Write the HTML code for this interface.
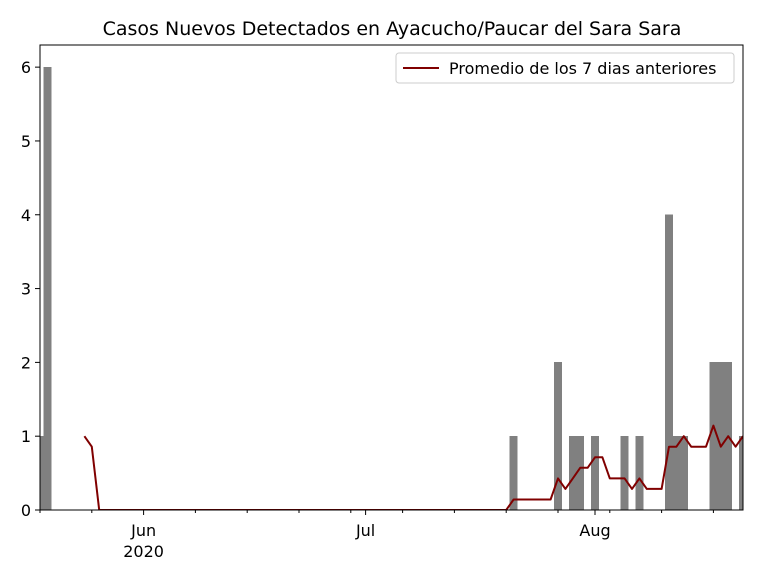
<!DOCTYPE html>
<html><head><meta charset="utf-8"><style>
body{margin:0;background:#fff;}
svg{display:block;font-family:"DejaVu Sans","Liberation Sans",sans-serif;}
</style></head><body>
<svg id="chart" width="768" height="576" viewBox="0 0 768 576" xmlns="http://www.w3.org/2000/svg">
<rect width="768" height="576" fill="#fff"/>
<text x="392" y="35" font-size="19" text-anchor="middle">Casos Nuevos Detectados en Ayacucho/Paucar del Sara Sara</text>
<g id="bars"></g><g id="line"></g><g id="axes"></g>
<g>
<rect x="396" y="53" width="338" height="30" rx="3" fill="#fff" stroke="#ccc"/>
<line x1="403" y1="68" x2="439" y2="68" stroke="#800000" stroke-width="2"/>
<text x="449" y="74" font-size="16">Promedio de los 7 dias anteriores</text>
</g>
</svg>
<script>
// days since 2020-06-01 and case counts
const days = [-14,-13,50,56,58,59,61,65,67,71,72,73,77,78,79,81];
const cases = [1,6,1,2,1,1,1,1,1,4,1,1,2,2,2,1];
const yTicks = [0,1,2,3,4,5,6];
const majorTickDays = [0,30,61];
const majorTickLabels = ["Jun","Jul","Aug"];

const L=40,R=743,T=45,B=510,d0=-14.0,d1=81.0,ymax=6.3;
const X=d=>L+(d-d0)/(d1-d0)*(R-L);
const Y=v=>B-v/ymax*(B-T);
const NS="http://www.w3.org/2000/svg";
function mk(tag,attrs,parent){const e=document.createElementNS(NS,tag);for(const k in attrs)e.setAttribute(k,attrs[k]);parent.appendChild(e);return e;}
const gb=document.getElementById('bars'),gl=document.getElementById('line'),ga=document.getElementById('axes');
const cp=mk('clipPath',{id:'cp'},document.getElementById('chart'));mk('rect',{x:L,y:T,width:R-L,height:B-T},cp);
gb.setAttribute('clip-path','url(#cp)');gl.setAttribute('clip-path','url(#cp)');
days.forEach((d,i)=>{const r=mk('rect',{x:X(d-0.5),y:Y(cases[i]),width:X(d+0.5)-X(d-0.5),height:B-Y(cases[i]),fill:'#808080',stroke:'#808080','stroke-width':0.6,'shape-rendering':'crispEdges'},gb);

});
// rolling 7-day mean
const count={};days.forEach((d,i)=>count[d]=cases[i]);
const pts=[];for(let d=-8;d<=81;d++){let s=0;for(let k=d-6;k<=d;k++)s+=(count[k]||0);pts.push(X(d).toFixed(1)+','+Y(s/7).toFixed(1));}
const pl=mk('polyline',{points:pts.join(' '),fill:'none',stroke:'#800000','stroke-width':2,'stroke-linejoin':'round'},gl);


// axes frame
const fr=mk('rect',{x:L,y:T,width:R-L,height:B-T,fill:'none',stroke:'#000','stroke-width':1},ga);


yTicks.forEach(v=>{mk('line',{x1:L-5,x2:L,y1:Y(v),y2:Y(v),stroke:'#000'},ga);
const t=mk('text',{x:L-9,y:Y(v)+6,'font-size':16,'text-anchor':'end'},ga);t.textContent=v;

});
for(let d=-14;d<=81;d+=7){if(majorTickDays.includes(d))continue;mk('line',{x1:X(d),x2:X(d),y1:B,y2:B+3,stroke:'#000'},ga);}
majorTickDays.forEach((d,i)=>{mk('line',{x1:X(d),x2:X(d),y1:B,y2:B+5,stroke:'#000'},ga);
const t=mk('text',{x:X(d),y:B+26,'font-size':16,'text-anchor':'middle'},ga);t.textContent=majorTickLabels[i];

});
const yr=mk('text',{x:X(0),y:B+47,'font-size':16,'text-anchor':'middle'},ga);yr.textContent='2020';


</script>
</body></html>
